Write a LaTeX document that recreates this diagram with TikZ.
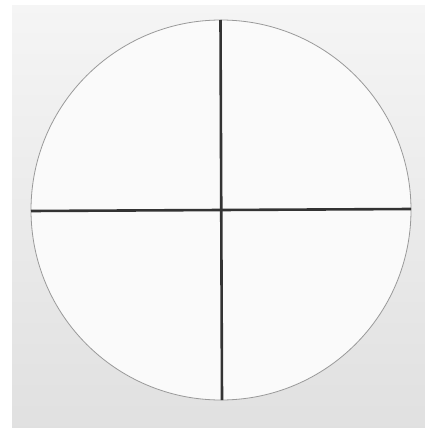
\documentclass[tikz,border=0pt]{standalone}
\begin{document}
\begin{tikzpicture}[x=1pt,y=-1pt,
  rim/.style={draw=black!40,line width=0.8pt,fill=black!2},
  hair/.style={draw=black!80,line width=2.6pt}]
\useasboundingbox (0,0) rectangle (425,428);
\fill[white] (0,0) rectangle (425,428);
\shade[top color=black!4,bottom color=black!12] (12,6) rectangle (425,428);
\coordinate (c) at (221,210);
\coordinate (l) at (31,211);
\coordinate (r) at (411,209);
\coordinate (t) at (220.5,20);
\coordinate (b) at (222,400);
\draw[rim] (c) circle[radius=190];
\draw[hair] (l) -- (r);
\draw[hair] (t) -- (b);
\end{tikzpicture}
\end{document}
